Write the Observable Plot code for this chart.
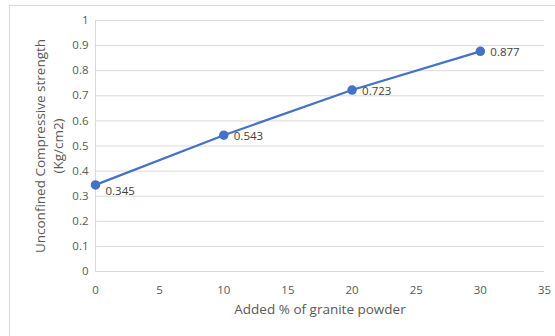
<!DOCTYPE html>
<html>
<head>
<meta charset="utf-8">
<script src="https://cdn.jsdelivr.net/npm/d3@7"></script>
<script src="https://cdn.jsdelivr.net/npm/@observablehq/plot@0.6"></script>
<style>
  html, body { margin: 0; padding: 0; background: #fff; }
  #wrap { position: relative; width: 555px; height: 336px; overflow: hidden; }
  #frame { position: absolute; left: 9px; top: 5px; width: 700px; height: 500px; border: 1px solid #d9d9d9; box-sizing: border-box; }
  #chart { position: absolute; left: 0; top: 0; }
</style>
</head>
<body>
<div id="wrap"><div id="frame"></div><div id="chart"></div></div>
<script>
const percent = [0, 10, 20, 30];
const strength = [0.345, 0.543, 0.723, 0.877];
const yTicks = [0, 0.1, 0.2, 0.3, 0.4, 0.5, 0.6, 0.7, 0.8, 0.9, 1];
const xTicks = [0, 5, 10, 15, 20, 25, 30, 35];
const xTitle = "Added % of granite powder";
const yTitle = "Unconfined Compressive strength\n(Kg/cm2)";

const data = percent.map((p, i) => ({p, s: strength[i], label: String(strength[i])}));
const blue = "#4472c4";
const font = "'Open Sans', sans-serif";

const chart = Plot.plot({
  width: 555,
  height: 336,
  marginLeft: 95,
  marginRight: 11,
  marginTop: 20,
  marginBottom: 65,
  style: {fontFamily: font, fontSize: "11.5px", color: "#595959", background: "transparent"},
  x: {domain: [0, 35], ticks: xTicks, tickSize: 0, tickPadding: 14, label: null, tickFormat: d => String(d)},
  y: {domain: [0, 1], ticks: yTicks, tickSize: 0, tickPadding: 7, label: null, tickFormat: d => String(d)},
  marks: [
    Plot.gridY(yTicks, {stroke: "#d9d9d9", strokeOpacity: 1, strokeWidth: 1}),
    Plot.ruleX([0], {stroke: "#d9d9d9", strokeWidth: 1}),
    Plot.axisX({ticks: xTicks, tickSize: 0, tickPadding: 14, fill: "#595959", fontSize: 11.5, tickFormat: d => String(d), label: null}),
    Plot.axisY({ticks: yTicks, tickSize: 0, tickPadding: 7, fill: "#595959", fontSize: 11.5, tickFormat: d => String(d), label: null}),
    Plot.line(data, {x: "p", y: "s", stroke: blue, strokeWidth: 2.25}),
    Plot.dot(data, {x: "p", y: "s", r: 4, fill: blue, stroke: blue}),
    Plot.text(data.slice(0, 1), {x: "p", y: "s", text: "label", textAnchor: "start", dx: 10, dy: 6, fill: "#404040", fontSize: 11.5}),
    Plot.text(data.slice(1), {x: "p", y: "s", text: "label", textAnchor: "start", dx: 10, dy: 1, fill: "#404040", fontSize: 11.5}),
    Plot.text([xTitle], {frameAnchor: "bottom", dy: 42, text: d => d, fill: "#595959", fontSize: 13.5, textAnchor: "middle"}),
    Plot.text([yTitle], {frameAnchor: "left", dx: -47, rotate: -90, text: d => d, fill: "#595959", fontSize: 13.5, textAnchor: "middle", lineAnchor: "middle", lineHeight: 1.3})
  ]
});
document.getElementById("chart").appendChild(chart);
</script>
</body>
</html>
